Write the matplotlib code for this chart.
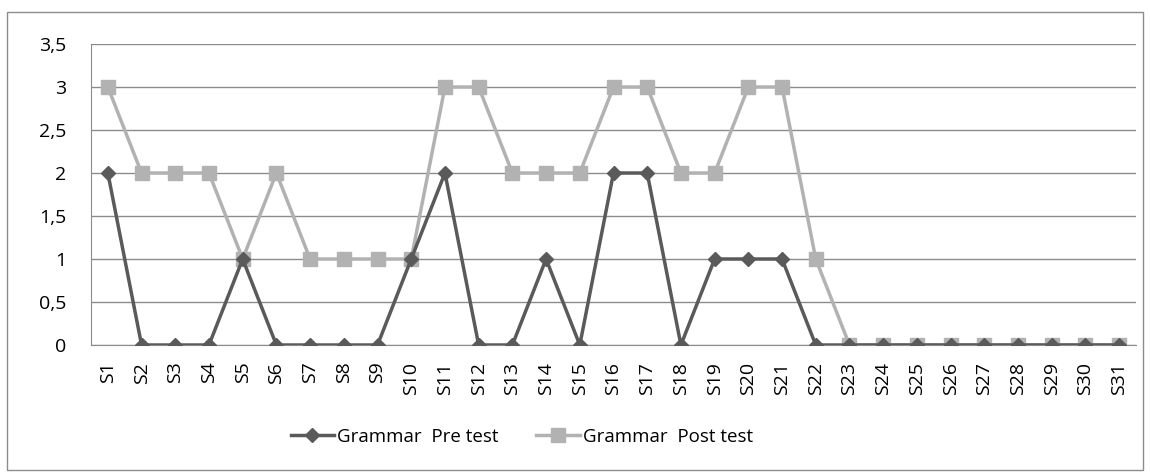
import matplotlib
matplotlib.use("Agg")
import matplotlib.pyplot as plt
from matplotlib.patches import Rectangle

categories = [f"S{i}" for i in range(1, 32)]
pre_test = [2, 0, 0, 0, 1, 0, 0, 0, 0, 1, 2, 0, 0, 1, 0, 2, 2, 0, 1, 1, 1, 0, 0, 0, 0, 0, 0, 0, 0, 0, 0]
post_test = [3, 2, 2, 2, 1, 2, 1, 1, 1, 1, 3, 3, 2, 2, 2, 3, 3, 2, 2, 3, 3, 1, 0, 0, 0, 0, 0, 0, 0, 0, 0]
yticks = [0, 0.5, 1, 1.5, 2, 2.5, 3, 3.5]
ytick_labels = ["0", "0,5", "1", "1,5", "2", "2,5", "3", "3,5"]

plt.rcParams['font.family'] = ['Open Sans', 'DejaVu Sans']

fig = plt.figure(figsize=(11.5, 4.73), dpi=100)
fig.patches.append(Rectangle((7/1150, 1 - 470/473), 1136/1150, 458/473, transform=fig.transFigure,
                             fill=False, edgecolor="#8c8c8c", linewidth=1))

ax = fig.add_axes([91/1150, 1 - 345/473, (1136 - 91)/1150, (345 - 44)/473])
x = list(range(len(categories)))
ax.plot(x, post_test, color="#b2b2b2", linewidth=2.5, marker="s", markersize=9.5, zorder=3,
        label="Grammar  Post test")
ax.plot(x, pre_test, color="#5a5a5a", linewidth=2.5, marker="D", markersize=7, zorder=4,
        label="Grammar  Pre test")

ax.set_xlim(-0.5, len(categories) - 0.5)
ax.set_ylim(0, 3.5)
ax.set_yticks(yticks)
ax.set_yticklabels(ytick_labels, fontsize=14)
ax.set_xticks(x)
ax.set_xticklabels(categories, rotation=90, fontsize=14)
ax.tick_params(axis="both", length=0)
ax.tick_params(axis="y", pad=18)
ax.tick_params(axis="x", pad=12)
ax.grid(axis="y", color="#8c8c8c", linewidth=1)
ax.set_axisbelow(True)
for side in ["top", "right"]:
    ax.spines[side].set_visible(False)
ax.spines["left"].set_color("#8c8c8c")
ax.spines["bottom"].set_color("#8c8c8c")

handles, labels = ax.get_legend_handles_labels()
fig.legend(handles[::-1], labels[::-1], loc="center", bbox_to_anchor=(522/1150, 1 - 437/473),
           ncol=2, frameon=False, fontsize=13.5, handlelength=2.3, columnspacing=2.0, handletextpad=0.2)

fig.savefig("out.png", dpi=100)
